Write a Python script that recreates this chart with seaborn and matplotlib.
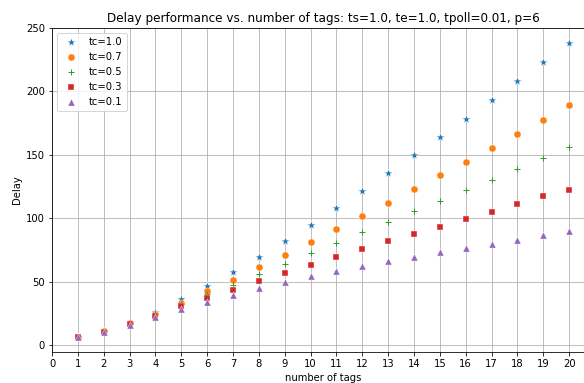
import numpy as np
import pandas as pd
import seaborn as sns
import matplotlib
matplotlib.use('Agg')
import matplotlib.pyplot as plt

# Values.
num_tags = list(range(1, 21))
delay_tc10 = [6.0, 10.8, 18.1, 26.0, 36.0, 46.3, 57.6, 69.2, 81.8, 94.6,
              107.8, 121.5, 135.4, 149.8, 163.8, 178.5, 193.2, 208.2, 223.4, 238.4]
delay_tc07 = [6.0, 10.8, 17.6, 24.7, 33.1, 42.6, 51.3, 61.3, 71.2, 81.2,
              91.5, 101.7, 112.2, 123.0, 133.8, 144.3, 155.4, 166.4, 177.1, 189.0]
delay_tc05 = [6.0, 10.6, 17.1, 24.2, 32.0, 40.0, 47.6, 55.8, 63.9, 72.6,
              80.7, 88.9, 97.0, 105.7, 113.6, 122.0, 130.4, 138.8, 147.5, 155.9]
delay_tc03 = [6.0, 10.5, 16.6, 23.1, 30.5, 37.3, 43.6, 50.7, 56.8, 63.3,
              69.4, 75.5, 81.8, 87.8, 93.3, 99.1, 104.9, 111.2, 117.3, 122.2]
delay_tc01 = [6.0, 10.0, 15.5, 21.8, 28.4, 33.9, 39.2, 45.0, 49.9, 54.4,
              58.4, 62.5, 66.0, 69.6, 73.1, 76.5, 79.9, 83.0, 86.5, 89.9]

# label, values, marker, colour, marker size, edge width
series = [
    ('tc=1.0', delay_tc10, '*', 'tab:blue', 80, 0.4),
    ('tc=0.7', delay_tc07, 'o', 'tab:orange', 50, 0.4),
    ('tc=0.5', delay_tc05, '+', 'tab:green', 45, 1.0),
    ('tc=0.3', delay_tc03, 's', 'tab:red', 45, 0.4),
    ('tc=0.1', delay_tc01, '^', 'tab:purple', 50, 0.4),
]

fig = plt.figure(figsize=(584 / 72, 383 / 72), dpi=72)
ax = fig.add_axes([52 / 584, 31 / 383, 543 / 584, 324 / 383])

for label, values, marker, color, size, lw in series:
    df = pd.DataFrame({'n': num_tags, 'delay': values})
    sns.scatterplot(data=df, x='n', y='delay', marker=marker, color=color,
                    label=label, s=size, linewidth=lw, ax=ax, zorder=3)

ax.set_xticks(range(0, 21))
ax.set_xlim(0, 21)
ax.set_ylim(-5.6, 250)
ax.grid(True)
ax.set_axisbelow(True)
ax.set_xlabel('number of tags')
ax.set_ylabel('Delay')
ax.set_title('Delay performance vs. number of tags: ts=1.0, te=1.0, tpoll=0.01, p=6')
ax.legend(loc='upper left')

fig.savefig('out.png', dpi=72)
